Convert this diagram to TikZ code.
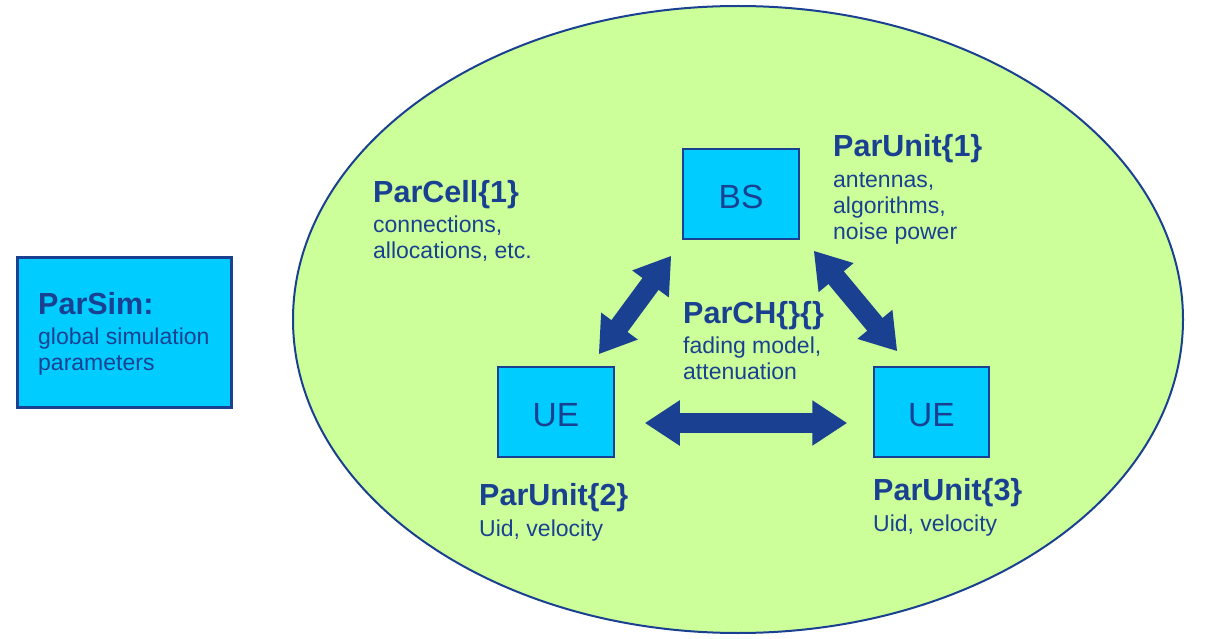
\documentclass[tikz,border=0pt]{standalone}
\usepackage{fontspec}
\setmainfont{Liberation Sans}
\usetikzlibrary{arrows.meta,calc,shapes.geometric}
\definecolor{dblue}{RGB}{26,65,145}
\definecolor{cyanbox}{RGB}{0,204,255}
\definecolor{lgreen}{RGB}{204,255,153}
\newcommand{\mytitle}[1]{{\fontsize{30.5}{32}\selectfont\bfseries #1}}
\newcommand{\boxtext}[1]{\raisebox{-3pt}[\height][0pt]{#1}}
\tikzset{
  unitbox/.style={draw=dblue, fill=cyanbox, line width=1.5pt, minimum width=116pt, minimum height=90pt, inner sep=0pt, text=dblue, font=\fontsize{33.5}{36}\selectfont},
  lbl/.style={anchor=base west, align=left, text=dblue, inner sep=0pt, font=\fontsize{23}{26}\selectfont},
  blk/.style={draw=dblue, line width=20pt, {Triangle[length=35pt,width=43pt]}-{Triangle[length=35pt,width=43pt]}}
}
\begin{document}
\begin{tikzpicture}[x=1pt,y=-1pt]
\useasboundingbox (0,0) rectangle (1227,639);
% cell ellipse
\node[ellipse, draw=dblue, fill=lgreen, line width=2pt, minimum width=890pt, minimum height=627pt, inner sep=0pt] (cell) at (738,319.5) {};
% global parameters box
\node[unitbox, minimum width=214pt, minimum height=150pt, line width=3pt] (sim) at (124.5,332.5) {};
\node[lbl, font=\fontsize{23}{25}\selectfont] (simtxt) at (38,370) {\mytitle{ParSim:}\\[6pt] global simulation\\ parameters};
% units
\node[unitbox] (bs) at (741,194) {\boxtext{BS}};
\node[unitbox] (ueL) at (556,412) {\boxtext{UE}};
\node[unitbox, minimum width=115pt] (ueR) at (931.5,412) {\boxtext{UE}};
% labels
\node[lbl] (cellTxt) at (373,259) {\mytitle{ParCell\{1\}}\\[4pt] connections,\\ allocations, etc.};
\node[lbl] (u1Txt) at (833,240) {\mytitle{ParUnit\{1\}}\\[5pt] antennas,\\ algorithms,\\ noise power};
\node[lbl] (chTxt) at (683,379) {\mytitle{ParCH\{\}\{\}}\\[4pt] fading model,\\ attenuation};
\node[lbl] (u2Txt) at (479,536) {\mytitle{ParUnit\{2\}}\\[5pt] Uid, velocity};
\node[lbl] (u3Txt) at (873,531) {\mytitle{ParUnit\{3\}}\\[5pt] Uid, velocity};
% channels
\draw[blk] ($(ueL.north east)+(-16,-12)$) -- ($(bs.south west)+(-11,16)$);
\draw[blk] ($(bs.south east)+(14,11)$) -- ($(ueR.north west)+(24,-15)$);
\draw[blk] ($(ueL.east)+(30,11)$) -- ($(ueR.west)+(-26,11)$);
\end{tikzpicture}
\end{document}
